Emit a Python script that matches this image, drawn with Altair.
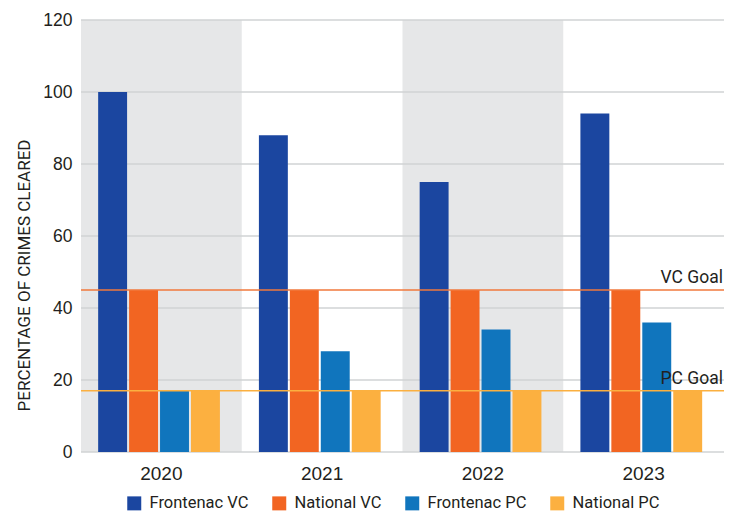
import altair as alt
import pandas as pd

years = ["2020", "2021", "2022", "2023"]
series = ["Frontenac VC", "National VC", "Frontenac PC", "National PC"]
frontenac_vc = [100, 88, 75, 94]
national_vc = [45, 45, 45, 45]
frontenac_pc = [17, 28, 34, 36]
national_pc = [17, 17, 17, 17]
colors = ["#1b46a0", "#f26522", "#1075bd", "#fcb040"]
shaded_years = ["2020", "2022"]
y_ticks = [0, 20, 40, 60, 80, 100, 120]
goal_names = ["VC Goal", "PC Goal"]
goal_values = [45, 17]
goal_colors = ["#f0783c", "#fbb040"]

TXTFONT = "Roboto"
NUM = "Liberation Sans"
TXT = "#231f20"
W, H = 643, 432

rows = []
for s, vals in zip(series, [frontenac_vc, national_vc, frontenac_pc, national_pc]):
    for y, v in zip(years, vals):
        rows.append({"year": y, "series": s, "value": v})
df = pd.DataFrame(rows)

x_scale = alt.Scale(domain=years, paddingInner=0, paddingOuter=0)
y_scale = alt.Scale(domain=[0, 120], nice=False)
x_axis = alt.Axis(title=None, domain=False, ticks=False, grid=False, labelAngle=0,
                  labelFont=NUM, labelFontSize=19, labelColor=TXT, labelPadding=12)
Y_TITLE = "PERCENTAGE OF CRIMES CLEARED"
y_axis = alt.Axis(values=y_ticks, grid=False, domain=False, ticks=False,
                  labelFont=NUM, labelFontSize=17.5, labelColor=TXT, labelPadding=9,
                  title=Y_TITLE, titleFont=TXTFONT, titleFontSize=17,
                  titleFontWeight="normal", titleColor=TXT, titleX=-57, titleY=255,
                  titleAlign="center", titleBaseline="middle")

def xenc():
    return alt.X("year:N", scale=x_scale, axis=x_axis, sort=years)

def yenc(field):
    return alt.Y(field, scale=y_scale, axis=y_axis, title=Y_TITLE)

bands = alt.Chart(pd.DataFrame({"year": shaded_years})).mark_rect(color="#e6e7e8").encode(
    x=xenc(), y=alt.value(0), y2=alt.value(H)
)

grid = alt.Chart(pd.DataFrame({"value": y_ticks})).mark_rule(color="#d1d3d4", strokeWidth=1.5).encode(
    y=yenc("value:Q")
)

bars = alt.Chart(df).mark_bar().encode(
    x=xenc(),
    xOffset=alt.XOffset("series:N", sort=series,
                        scale=alt.Scale(domain=series, paddingInner=0.065, paddingOuter=0.63, align=0.44)),
    y=yenc("value:Q"),
    color=alt.Color("series:N", sort=series,
                    scale=alt.Scale(domain=series, range=colors),
                    legend=alt.Legend(orient="none", legendX=45, legendY=475, direction="horizontal",
                                      title=None, symbolType="square", symbolSize=196,
                                      symbolStrokeWidth=0, labelFont=TXTFONT, labelFontSize=16.5,
                                      labelColor=TXT, columnPadding=22, labelOffset=7, padding=0)),
)

layers = [bands, grid, bars]
for name, val, col in zip(goal_names, goal_values, goal_colors):
    gdf = pd.DataFrame({"value": [val], "name": [name]})
    layers.append(alt.Chart(gdf).mark_rule(color=col, strokeWidth=1.6).encode(y=yenc("value:Q")))
    layers.append(alt.Chart(gdf).mark_text(align="right", baseline="alphabetic", dy=-7,
                                           font=TXTFONT, fontSize=17.5, color=TXT).encode(
        x=alt.value(W - 1), y=yenc("value:Q"), text="name:N"))

chart = alt.layer(*layers).properties(
    width=W, height=H,
    autosize=alt.AutoSizeParams(type="none"),
    padding={"left": 73, "top": 12, "right": 0, "bottom": 60},
).configure_view(stroke=None)

chart.save("out.html", embed_options={"renderer": "svg", "actions": False})
